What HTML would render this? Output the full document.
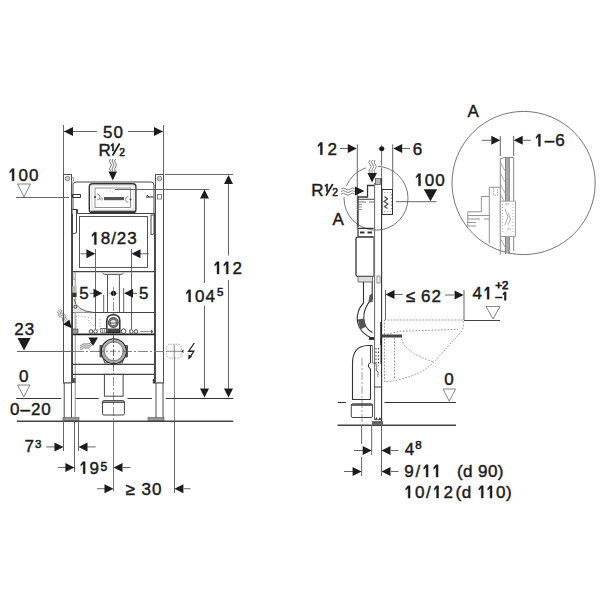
<!DOCTYPE html>
<html><head><meta charset="utf-8">
<style>
html,body{margin:0;padding:0;background:#fff;width:600px;height:600px;overflow:hidden}
svg{display:block}
text{font-family:"Liberation Sans",sans-serif;fill:#1c1c1c;stroke:#1c1c1c;stroke-width:0.45;font-size:17px}
.t{letter-spacing:1px}
.ln{fill:none;stroke:#666;stroke-width:1}
.dk{fill:none;stroke:#333;stroke-width:1.2}
.ar{fill:#1c1c1c;stroke:none}
.h1{fill:none;stroke:none}
</style></head><body>
<svg width="600" height="600" viewBox="0 0 600 600">

<!-- ================= LEFT FRONT VIEW ================= -->
<!-- dim 50 -->
<g class="ln">
<path d="M63.5 125V174 M163.5 125V174 M64 131.5H97 M128 131.5H163"/>
</g>
<g class="ar">
<path d="M64 131.5 L73 127 L73 136 Z"/>
<path d="M163 131.5 L154 127 L154 136 Z"/>
</g>
<text class="t" x="113.5" y="138" text-anchor="middle">50</text>
<text x="98.5" y="155.5">R</text>
<text x="109.9" y="151" style="font-size:10.3px;stroke-width:0.6"><tspan class="h1">1</tspan></text>
<path d="M119.6 143.5 L112.6 155.5" stroke="#1c1c1c" stroke-width="1.7"/>
<text x="119.3" y="155.6" style="font-size:10.3px;stroke-width:0.55">2</text>
<!-- wavy + arrow -->
<g fill="none" stroke="#555" stroke-width="0.8">
<path d="M110.5 159 q-2 2 0 4 q2 2 0 4 q-2 2 0 4"/>
<path d="M113 159 q-2 2 0 4 q2 2 0 4 q-2 2 0 4"/>
<path d="M115.5 159 q-2 2 0 4 q2 2 0 4 q-2 2 0 4"/>
</g>
<path class="ar" d="M112.8 180.5 L108.5 171.5 L117 171.5 Z"/>

<!-- level 100 -->
<text class="t" x="23.7" y="180.8" text-anchor="middle"><tspan class="h1">1</tspan>00</text>
<path d="M17.5 184 H30.5 L24 196.8 Z" fill="none" stroke="#777" stroke-width="0.9"/>
<path class="ln" d="M16 197.5 H69"/>

<!-- posts -->
<g fill="#fff" stroke="#505050" stroke-width="1">
<rect x="63.5" y="174.5" width="8" height="208.5"/>
<rect x="64.2" y="383" width="7.3" height="36"/>
<rect x="155.5" y="174.5" width="8" height="208.5"/>
<rect x="156" y="383" width="7" height="36"/>
</g>
<circle cx="67.5" cy="178.5" r="2.3" fill="#ccc" stroke="#777" stroke-width="0.8"/>
<circle cx="159.5" cy="178.5" r="2.3" fill="#ccc" stroke="#777" stroke-width="0.8"/>
<rect x="157.5" y="194.5" width="4" height="4.5" fill="none" stroke="#666" stroke-width="0.8"/>
<path d="M71.5 177.5 H73.5 V181 H71.5" fill="none" stroke="#888" stroke-width="0.8"/>
<path d="M63 197.5 H69" stroke="#666" stroke-width="1"/>
<!-- foot plates -->
<rect x="63" y="417.5" width="16" height="3.5" fill="#999" stroke="#555" stroke-width="0.6"/>
<rect x="148" y="417.5" width="16" height="3.5" fill="#999" stroke="#555" stroke-width="0.6"/>

<!-- cistern upper -->
<path d="M73 209.5 V185 Q73 182 76 182 H151 Q154 182 154 185 V213.5 H77.5 V209.5 Z" fill="none" stroke="#444" stroke-width="1"/>
<path d="M71.8 183 H73 V209" stroke="#aaa" stroke-width="1.2" fill="none"/>
<rect x="89.3" y="183.8" width="46.6" height="29" rx="3" fill="none" stroke="#333" stroke-width="1.4"/>
<rect x="91.8" y="185.2" width="42" height="25" rx="1.5" fill="none" stroke="#bbb" stroke-width="0.6"/>
<rect x="95" y="188" width="35.5" height="19.5" fill="none" stroke="#777" stroke-width="0.8"/>
<path d="M91 211.5 H135" stroke="#444" stroke-width="1.6"/>
<path d="M97 194 A3 3 0 0 1 97 200 M128.5 196.5 A3 3 0 0 0 128.5 202.5" fill="none" stroke="#777" stroke-width="0.8"/>
<circle cx="95" cy="197" r="1" fill="#333"/><circle cx="130.5" cy="199.5" r="1" fill="#333"/>
<circle cx="101.5" cy="199" r="1.2" fill="none" stroke="#777" stroke-width="0.6"/>
<rect x="104" y="197" width="20" height="3.2" fill="#555"/>
<path d="M110 190 h1 M114 190 h1 M112 192 h1" stroke="#aaa" stroke-width="0.8"/>
<!-- side small stuff -->
<path d="M72.5 194.5 H80.5 V197.5 H72.5 Z" fill="none" stroke="#333" stroke-width="1"/>
<path d="M72 209.5 H76.5 V232 Q76.5 233.5 74.5 233.5 H72 Z" fill="none" stroke="#333" stroke-width="0.9"/>
<path d="M146 197 H153.5 M147 195 L149 197" stroke="#222" stroke-width="1"/>
<path d="M151 215 H154 V233 Q154 234.5 152.5 234.5 H151 Z" fill="none" stroke="#333" stroke-width="0.9"/>

<!-- cistern lower box -->
<rect x="79.5" y="216.5" width="68" height="51" fill="none" stroke="#555" stroke-width="1"/>
<path d="M72.5 213.5 V383 M154.5 213 V383" stroke="#444" stroke-width="1"/>
<rect x="152.8" y="379" width="2.4" height="4.5" fill="#444"/>
<path d="M72.5 271.7 H155" stroke="#444" stroke-width="1.2"/>
<path d="M75.2 272 V421" stroke="#888" stroke-width="0.9"/>
<path d="M73 273 V279 H75" fill="none" stroke="#777" stroke-width="0.8"/>

<!-- dim 18/23 -->
<text class="t" x="114" y="244.4" text-anchor="middle"><tspan class="h1">1</tspan>8/23</text>
<path class="ln" d="M80.5 253.75 H87 M140 253.75 H148.75 M95.5 249 V329 M131.5 249 V329"/>
<path class="ar" d="M95.4 253.75 L86.4 249.25 L86.4 258.25 Z M131.5 253.75 L140.5 249.25 L140.5 258.25 Z"/>

<!-- drain pipe top -->
<path d="M102.5 272.8 L104.5 274.5 H121.8 L123.8 272.8" fill="#ddd" stroke="#555" stroke-width="0.9"/>
<path d="M107.5 275 V312 M119.4 275 V312" stroke="#555" stroke-width="1"/>

<!-- dim 5 / 5 -->
<text class="t" x="84.4" y="298.75" text-anchor="middle">5</text>
<text class="t" x="144.2" y="298.75" text-anchor="middle">5</text>
<path class="ln" d="M90 293.3 H94 M133 293.3 H137 M103.7 295 V312 M123.7 288 V312"/>
<path class="ar" d="M102.5 293.3 L93.5 288.8 L93.5 297.8 Z M124 293.3 L133 288.8 L133 297.8 Z"/>
<path d="M108.5 293.3 H118.5" stroke="#999" stroke-width="0.8"/>
<circle cx="113.5" cy="293.3" r="2.6" fill="#1c1c1c"/>
<path d="M113.5 287 V421" stroke="#777" stroke-width="0.8" stroke-dasharray="9 2 2 2"/>
<path d="M113.5 421 V491.5" stroke="#777" stroke-width="1"/>

<!-- rails -->
<path d="M72.5 312.5 H155" stroke="#444" stroke-width="1.1"/>
<path d="M72.5 334.4 H155" stroke="#222" stroke-width="1.6"/>
<path d="M72.5 364.4 H155" stroke="#444" stroke-width="1.2"/>
<path d="M72.5 374.4 H155" stroke="#444" stroke-width="1.2"/>
<rect x="72.5" y="378" width="3" height="5" fill="#555"/>
<!-- dotted zone -->
<path d="M76.5 316 V331 M78 315.5 L94 318.5 M100 319 L100 331 M88 320 L98 330" fill="none" stroke="#999" stroke-width="0.9" stroke-dasharray="1.3 2"/>
<!-- bracket curve -->
<path d="M73.5 299 Q76 311 94 312.5 H73.5 Z" fill="#e4e4e4" stroke="none"/>
<path d="M74 299 Q76 311 94 312.5" fill="none" stroke="#555" stroke-width="0.9"/>
<rect x="72.3" y="292.5" width="4.3" height="4.5" fill="#333"/>
<rect x="72.3" y="286" width="4.3" height="6.5" fill="#bbb"/>
<circle cx="75.3" cy="306.8" r="1.5" fill="none" stroke="#333" stroke-width="0.9"/>
<path d="M72.5 329 H78 V334 H72.5 Z" fill="#999" stroke="#444" stroke-width="0.7"/>
<!-- connector fitting -->
<path d="M106.8 332.5 V321 Q106.8 314.8 113.3 314.8 Q119.8 314.8 119.8 321 V332.5 Z" fill="#fff" stroke="#2a2a2a" stroke-width="1.5"/>
<circle cx="113.3" cy="322.5" r="5" fill="#777" stroke="#333" stroke-width="0.8"/>
<circle cx="113.3" cy="322.5" r="2.6" fill="#eee"/>
<path d="M110 323 H116.5" stroke="#333" stroke-width="0.8"/>
<path d="M107.5 328.5 H119 V332 H107.5 Z" fill="#444"/>
<!-- small circles on rail -->
<circle cx="91" cy="331.5" r="1.8" fill="none" stroke="#444" stroke-width="1"/>
<circle cx="95.5" cy="331.5" r="1.8" fill="none" stroke="#444" stroke-width="1"/>
<rect x="100.8" y="328.5" width="5.4" height="4.5" fill="none" stroke="#555" stroke-width="0.8"/>
<path d="M102.6 328.5 V333 M104.4 328.5 V333" stroke="#555" stroke-width="0.6"/>
<circle cx="123.6" cy="331.2" r="2.3" fill="none" stroke="#444" stroke-width="1"/>
<circle cx="131.3" cy="331.5" r="1.8" fill="none" stroke="#444" stroke-width="1"/>
<circle cx="136" cy="331.5" r="1.8" fill="none" stroke="#444" stroke-width="1"/>
<path d="M140 331.5 H152" stroke="#777" stroke-width="0.8"/>
<path d="M151 329.5 L153.5 331.5 L151 333.5 Z" fill="#555"/>
<!-- water arrows -->
<path class="ar" d="M71.8 328.2 L63 324.6 L69.3 319.6 Z"/>
<g fill="none" stroke="#555" stroke-width="0.75">
<path d="M56.74 312.04 L57.07 312.10 L57.39 312.16 L57.69 312.24 L57.96 312.35 L58.18 312.48 L58.37 312.65 L58.51 312.86 L58.61 313.10 L58.67 313.37 L58.69 313.67 L58.69 313.99 L58.67 314.32 L58.65 314.66 L58.63 314.99 L58.64 315.31 L58.66 315.60 L58.73 315.87 L58.84 316.10 L58.99 316.30 L59.18 316.46 L59.42 316.59 L59.69 316.69 L60.00 316.77 L60.32 316.83 L60.65 316.89 L60.98 316.94 L61.30 317.01 L61.59 317.10 L61.85 317.21 L62.07 317.35 L62.25 317.53 L62.38 317.74 L62.47 317.99 L62.52 318.27 L62.54 318.57 L62.53 318.89 L62.51 319.23 L62.49 319.56 L62.48 319.89 L62.48 320.20 L62.52 320.49 L62.59 320.75 L62.71 320.98 L62.87 321.17 L63.07 321.33 L63.31 321.45 L63.60 321.55 L63.90 321.62 L64.23 321.68 L64.56 321.73 M58.30 310.80 L58.63 310.86 L58.95 310.92 L59.25 311.00 L59.52 311.11 L59.74 311.24 L59.93 311.41 L60.07 311.62 L60.17 311.86 L60.23 312.13 L60.25 312.43 L60.25 312.75 L60.23 313.08 L60.21 313.42 L60.19 313.75 L60.20 314.07 L60.22 314.36 L60.29 314.63 L60.40 314.86 L60.55 315.06 L60.74 315.22 L60.98 315.35 L61.25 315.45 L61.56 315.53 L61.88 315.59 L62.21 315.65 L62.54 315.70 L62.86 315.77 L63.15 315.86 L63.41 315.97 L63.63 316.11 L63.81 316.29 L63.94 316.50 L64.03 316.75 L64.08 317.03 L64.10 317.33 L64.09 317.65 L64.07 317.99 L64.05 318.32 L64.04 318.65 L64.04 318.96 L64.08 319.25 L64.15 319.51 L64.27 319.74 L64.43 319.93 L64.63 320.09 L64.87 320.21 L65.16 320.31 L65.46 320.38 L65.79 320.44 L66.12 320.49 M59.86 309.56 L60.19 309.62 L60.51 309.68 L60.81 309.76 L61.08 309.87 L61.30 310.00 L61.49 310.17 L61.63 310.38 L61.73 310.62 L61.79 310.89 L61.81 311.19 L61.81 311.51 L61.79 311.84 L61.77 312.18 L61.75 312.51 L61.76 312.83 L61.78 313.12 L61.85 313.39 L61.96 313.62 L62.11 313.82 L62.30 313.98 L62.54 314.11 L62.81 314.21 L63.12 314.29 L63.44 314.35 L63.77 314.41 L64.10 314.46 L64.42 314.53 L64.71 314.62 L64.97 314.73 L65.19 314.87 L65.37 315.05 L65.50 315.26 L65.59 315.51 L65.64 315.79 L65.66 316.09 L65.65 316.41 L65.63 316.75 L65.61 317.08 L65.60 317.41 L65.60 317.72 L65.64 318.01 L65.71 318.27 L65.83 318.50 L65.99 318.69 L66.19 318.85 L66.43 318.97 L66.72 319.07 L67.02 319.14 L67.35 319.20 L67.68 319.25"/>
<path d="M80 346 q3 -3 6 -2 q3 1 6 -3 M80 348 q3 -3 6 -2 q3 1 6 -3 M80 350 q3 -3 6 -2 q3 1 6 -3"/>
</g>
<path class="ar" d="M93 346 L88.5 337.5 L98 337.5 Z"/>

<!-- level 23 -->
<text class="t" x="24.8" y="335.2" text-anchor="middle">23</text>
<path class="ar" d="M17.5 338.1 H30.6 L24 350.6 Z"/>
<path d="M16.9 351.5 H74" stroke="#666" stroke-width="1"/>
<path d="M74 351.5 H166" stroke="#777" stroke-width="0.9" stroke-dasharray="10 2 2 2"/>

<!-- pipe circle -->
<rect x="99.5" y="345" width="3" height="12.5" rx="1" fill="#555"/>
<rect x="125" y="345" width="3" height="12.5" rx="1" fill="#555"/>
<path d="M103 358 L105 363 H108 M124 358 L122 363 H119" fill="none" stroke="#555" stroke-width="1.2"/>
<circle cx="113.8" cy="351.3" r="12.4" fill="#fff" stroke="#2a2a2a" stroke-width="1.3"/>
<circle cx="113.8" cy="351.3" r="10.7" fill="none" stroke="#aaa" stroke-width="2.2"/>
<circle cx="113.8" cy="351.3" r="9.4" fill="none" stroke="#555" stroke-width="0.8"/>
<path d="M113.5 336 V367" stroke="#444" stroke-width="0.8" stroke-dasharray="7 2 2 2"/>
<path d="M98 351.25 H129" stroke="#555" stroke-width="0.8" stroke-dasharray="6 2 2 2"/>

<!-- electrical -->
<rect x="166.3" y="344.2" width="15.4" height="13.8" rx="4" fill="none" stroke="#999" stroke-width="0.9" stroke-dasharray="1.5 1.2"/>
<path d="M174.5 358 V493" stroke="#888" stroke-width="1"/><path d="M174.3 344.5 V358" stroke="#888" stroke-width="1"/>
<path d="M166 351.25 H181" stroke="#777" stroke-width="0.9"/>
<path d="M181 351.25 L183.5 349.5 L183.5 353 Z" fill="#333"/>
<path d="M194.3 343 L188.6 351.25 L193.8 351.25 L189.5 358" fill="none" stroke="#222" stroke-width="1.3" stroke-linejoin="miter"/>
<path d="M188.2 359.8 L188.6 354.5 L192 356.6 Z" fill="#222"/>

<!-- drain lower -->
<rect x="104.4" y="374.4" width="18.7" height="21.8" fill="none" stroke="#444" stroke-width="1"/>
<rect x="102.5" y="400.6" width="21.9" height="14.4" rx="1.5" fill="none" stroke="#444" stroke-width="1"/>
<path d="M102.5 402.2 H124.4" stroke="#444" stroke-width="1.4"/>

<!-- level 0 / floor -->
<text class="t" x="24.3" y="382" text-anchor="middle">0</text>
<path d="M17.5 385 H30 L23.75 396.9 Z" fill="none" stroke="#777" stroke-width="0.9"/>
<path d="M16.25 398.5 H61.25 M75.6 398.5 H98.75 M127.5 398.5 H152 M165.8 398.5 H233.3" stroke="#333" stroke-width="1.2"/>
<text class="t" x="10" y="415">0–20</text>
<path d="M16.9 421.2 H233.3" stroke="#444" stroke-width="1.5"/>

<!-- dim 112 / 104.5 -->
<path class="ln" d="M165 174.5 H233 M228.5 184 V255.6 M228.5 280 V388.5 M115 189.5 H209.4 M204.5 198.5 V283 M204.5 305.6 V388.5"/>
<path class="ar" d="M228.5 175 L224 184 L233 184 Z M228.5 397.5 L224 388.5 L233 388.5 Z M204.5 189.5 L200 198.5 L209 198.5 Z M204.5 397.5 L200 388.5 L209 388.5 Z"/>
<text class="t" x="228" y="273.9" text-anchor="middle" style="letter-spacing:1px"><tspan class="h1">1</tspan><tspan class="h1">1</tspan>2</text>
<text class="t" x="200.2" y="302" text-anchor="middle"><tspan class="h1">1</tspan>04</text>
<text x="220.3" y="296.2" style="font-size:11.5px;stroke-width:0.55" text-anchor="middle">5</text>

<!-- bottom dims -->
<path class="ln" d="M63.5 421 V451 M74.5 421 V472 M78.5 421 V451 M174.5 421 V493"/>
<path class="ln" d="M46.25 446.9 H55 M87 446.9 H95.6 M58 467.5 H66 M123 467.5 H130.6 M96.9 488.75 H105 M183.75 488.75 H190.6"/>
<path class="ar" d="M63.5 446.9 L54.5 442.4 L54.5 451.4 Z M78.5 446.9 L87.5 442.4 L87.5 451.4 Z M74.4 467.5 L65.4 463 L65.4 472 Z M113.5 467.5 L122.5 463 L122.5 472 Z M113.5 488.75 L104.5 484.25 L104.5 493.25 Z M174.4 488.75 L183.4 484.25 L183.4 493.25 Z"/>
<text class="t" x="29.8" y="452" text-anchor="middle">7</text>
<text x="38.3" y="447.7" style="font-size:11.5px;stroke-width:0.55" text-anchor="middle">3</text>
<text class="t" x="89.5" y="473.8" text-anchor="middle"><tspan class="h1">1</tspan>9</text>
<text x="103.8" y="470.5" style="font-size:12px;stroke-width:0.55" text-anchor="middle">5</text>
<text class="t" x="144" y="495.2" text-anchor="middle">≥ 30</text>


<!-- ================= RIGHT SIDE VIEW ================= -->
<!-- dim 12 / 6 -->
<text class="t" x="327.5" y="154.7" text-anchor="middle" style="letter-spacing:1.8px"><tspan class="h1">1</tspan>2</text>
<path class="ln" d="M340 148.5 H348 M357.3 144.4 V228 M392.7 144.3 V189 M402 148.5 H410"/>
<path class="ar" d="M356.8 148.5 L347.8 144 L347.8 153 Z M393.2 148.5 L402.2 144 L402.2 153 Z"/>
<path d="M377.5 148.75 H385.5 M381.6 144.5 V148" stroke="#999" stroke-width="0.7"/>
<circle cx="381.7" cy="148.75" r="2.5" fill="#1c1c1c"/>

<path d="M381.6 151 V165.5 M381.6 167.5 V178" stroke="#666" stroke-width="1"/>
<text class="t" x="418" y="154.8" text-anchor="middle">6</text>

<!-- circle A (side) -->
<circle cx="376" cy="198.2" r="32" fill="none" stroke="#666" stroke-width="0.9"/>
<text x="311.3" y="195.6">R</text>
<text x="323.9" y="191.4" style="font-size:10.3px;stroke-width:0.6"><tspan class="h1">1</tspan></text>
<path d="M332.8 184 L326 195.6" stroke="#1c1c1c" stroke-width="1.7"/>
<text x="332.2" y="195.7" style="font-size:10.3px;stroke-width:0.55">2</text>
<text class="t" x="338.6" y="224.5" text-anchor="middle">A</text>
<g fill="none" stroke="#666" stroke-width="0.8">
<path d="M340.5 186 H356 V197 H340.5 Z" fill="#fff" stroke="none"/><path d="M341 189 q2.3 -2 4.6 0 q2.3 2 4.6 0 q2.3 -2 4.6 0 M341 191.6 q2.3 -2 4.6 0 q2.3 2 4.6 0 q2.3 -2 4.6 0 M341 194.2 q2.3 -2 4.6 0 q2.3 2 4.6 0 q2.3 -2 4.6 0"/>
<path d="M366 172 V160 H378 V172 Z" fill="#fff" stroke="none"/><path d="M370 160 q-2.2 2.2 0 4.4 q2.2 2.2 0 4.4 q-2.2 2.2 0 4.4 M372.6 160 q-2.2 2.2 0 4.4 q2.2 2.2 0 4.4 q-2.2 2.2 0 4.4 M375.2 160 q-2.2 2.2 0 4.4 q2.2 2.2 0 4.4 q-2.2 2.2 0 4.4"/>
</g>
<path class="ar" d="M364.5 191 L355 186.5 L355 195.5 Z M372 182.5 L367.5 173 L377 173 Z"/>

<!-- frame post side -->
<path d="M374.6 183 V420" stroke="#666" stroke-width="1"/><path d="M381.6 178 V425" stroke="#333" stroke-width="1.1"/>
<rect x="375.5" y="178.5" width="5" height="6" fill="#bbb" stroke="#555" stroke-width="0.8"/>
<!-- connection step -->
<path d="M374 185.5 H367.5 V197 H358 V227" fill="none" stroke="#333" stroke-width="1.3"/>
<path d="M358 199.3 H374" stroke="#444" stroke-width="1"/><path d="M358 202 H366 M369 202 H374" stroke="#666" stroke-width="0.9"/>
<path d="M357 204.5 H362 M357 207 H362 M357 209.5 H362" stroke="#777" stroke-width="0.8"/>
<!-- plate -->
<rect x="382" y="189.5" width="10.5" height="25" fill="none" stroke="#333" stroke-width="1"/>
<path d="M384 192.5 H391 M384 211.5 H391" stroke="#999" stroke-width="0.9" stroke-dasharray="1 2"/>
<path d="M391.5 194 V210" stroke="#888" stroke-width="0.9" stroke-dasharray="1.5 2"/>
<path d="M384.5 196.5 L387.5 199 L384 201.5 L388 204 L384.5 206.5 L387.5 208.5" stroke="#444" stroke-width="1.1" fill="none"/>

<!-- level 100 side -->
<text class="t" x="430.1" y="185.8" text-anchor="middle"><tspan class="h1">1</tspan>00</text>
<path class="ar" d="M423.7 189.2 H437.2 L430.5 201.2 Z"/>
<path d="M396 201.7 H436.5" stroke="#666" stroke-width="1"/>

<!-- cistern side body -->
<path d="M373.6 228.4 H358 V236.6" fill="none" stroke="#333" stroke-width="1.2"/>
<path d="M360 232.5 H364.5 M367.5 232.5 H372" stroke="#333" stroke-width="1.8"/>
<path d="M358 236.6 H373.6" stroke="#555" stroke-width="0.8"/>
<path d="M373.6 237.2 H357.5 Q356 237.2 356 238.7 V274.8 Q356 276.3 357.5 276.3 H373.6" fill="none" stroke="#333" stroke-width="1.3"/>
<path d="M373.6 237 V276.5" stroke="#777" stroke-width="0.9"/>
<path d="M358 276.5 H372.5 V282 H358 Z" fill="#ddd" stroke="#555" stroke-width="0.8"/>
<rect x="377" y="276" width="3" height="7" fill="none" stroke="#777" stroke-width="0.8"/>
<!-- flush bend -->
<path d="M363.5 282 V303 Q356 311 357.5 322 Q359.5 333 372.5 338.5" fill="none" stroke="#333" stroke-width="1.1"/>
<path d="M372.2 282 V298.5 Q363 308 363.8 319 Q364.5 328.5 372.5 332.5" fill="none" stroke="#333" stroke-width="1.1"/>
<path d="M357.8 319.5 L363.8 318.5 L365.5 327 L360.2 329.5 Z" fill="#555"/>
<path d="M369.5 295 L372.6 293.5 L372.6 302 L368.5 302.5 Z" fill="#555"/>
<path d="M369 337 H374 V340 H369 Z" fill="#333"/>

<!-- dim <=62 -->
<path class="ln" d="M385.5 290 V320 M394 294.5 H402.7 M445 295 H454 M464 290 V320"/>
<path class="ar" d="M385.5 294.5 L394.5 290 L394.5 299 Z M463.6 295 L454.6 290.5 L454.6 299.5 Z"/>
<text class="t" x="411" y="302" text-anchor="middle">≤</text>
<text class="t" x="431.5" y="302" text-anchor="middle">62</text>
<text class="t" x="483" y="299.2" text-anchor="middle">4<tspan class="h1">1</tspan></text>
<text x="501.8" y="288.5" style="font-size:11.5px;stroke-width:0.75" text-anchor="middle">+2</text>
<text x="501.8" y="300.2" style="font-size:11.5px;stroke-width:0.75" text-anchor="middle">–<tspan class="h1">1</tspan></text>
<path d="M486 306.5 H500 L493 319 Z" fill="none" stroke="#777" stroke-width="0.9"/>
<path d="M464 320.5 H500" stroke="#444" stroke-width="1.2"/>

<!-- WC dotted -->
<g fill="none" stroke="#888" stroke-width="0.9" stroke-dasharray="1.6 1.6">
<path d="M384.5 320 H463 Q465 326 461 332 L436 360 Q420 378 384.5 382 Z"/>
<path d="M384 335 L400 331.3 L458 329.3"/>
<path d="M401 336 Q402 352 434 362"/>
<path d="M394.5 338 V379"/>
</g>
<!-- bolt -->
<rect x="381" y="334.5" width="21" height="3" fill="#444"/>
<path d="M381 322 V345" stroke="#222" stroke-width="1.5"/>

<!-- drain bend -->
<path d="M372.5 345.5 H368 Q352.5 346 352.5 363 V399.5 H370.5" fill="none" stroke="#333" stroke-width="1.1"/>
<path d="M370.5 345.5 V363 Q368 363.5 368.3 366 Q368.5 368 370.5 368.5 V399.5" fill="none" stroke="#333" stroke-width="1"/>
<path d="M372.5 345.5 V363" stroke="#666" stroke-width="0.8"/>
<path d="M362 358 V425" stroke="#888" stroke-width="0.8" stroke-dasharray="8 2 2 2"/>
<path d="M376 348 V366 M378.5 348 V366" stroke="#444" stroke-width="1" stroke-dasharray="1.5 2"/>
<path d="M381.3 338 V364" stroke="#222" stroke-width="1.5"/>
<path d="M374 387 H381.5" stroke="#444" stroke-width="1"/>
<path d="M372.5 363 H375 Q378 365 376 370 L378 372 V377" fill="none" stroke="#555" stroke-width="0.8"/>

<!-- fitting -->
<rect x="351.25" y="403.75" width="21.25" height="13.75" rx="1.5" fill="none" stroke="#444" stroke-width="1"/>
<path d="M351.25 405 H372.5" stroke="#444" stroke-width="1.6"/>

<!-- level 0 side / floor -->
<path d="M338 402.5 H346 M384.4 402.5 H456" stroke="#333" stroke-width="1.2"/>
<text class="t" x="449.6" y="385.2" text-anchor="middle">0</text>
<path d="M443 389 H455.6 L449.3 401.3 Z" fill="none" stroke="#777" stroke-width="0.9"/>
<path d="M337.5 425.2 H456" stroke="#444" stroke-width="1.5"/>
<path d="M374.5 420 L376.5 417 L378 420 L380 417 L381.5 420 Z" fill="#444"/>
<rect x="372" y="421" width="11" height="4" fill="#666"/>

<!-- bottom dims side -->
<path class="ln" d="M371.7 425 V455 M381.5 425 V476 M354 450.5 H363 M391 450.5 H398.5 M344 471.5 H353 M391 471.5 H398.5 M361.6 425 V444 M361.6 457 V476"/>
<path class="ar" d="M371.7 450.5 L362.7 446 L362.7 455 Z M381.5 450.5 L390.5 446 L390.5 455 Z M361.6 471.5 L352.6 467 L352.6 476 Z M381.5 471.5 L390.5 467 L390.5 476 Z"/>
<text class="t" x="410" y="454.8" text-anchor="middle">4</text>
<text x="418.4" y="449.4" style="font-size:11.5px;stroke-width:0.55" text-anchor="middle">8</text>
<text class="t" x="404.2" y="477" style="letter-spacing:1.8px">9/<tspan class="h1">1</tspan><tspan class="h1">1</tspan></text>
<text x="457" y="477" style="letter-spacing:0.4px">(d 90)</text>
<text x="404" y="498" style="letter-spacing:1.6px"><tspan class="h1">1</tspan>0/<tspan class="h1">1</tspan>2</text>
<text x="455.5" y="498" style="letter-spacing:0.6px">(d <tspan class="h1">1</tspan><tspan class="h1">1</tspan>0)</text>

<!-- ================= DETAIL A ================= -->
<text class="t" x="473.6" y="116.7" text-anchor="middle">A</text>
<circle cx="523.6" cy="183" r="71.6" fill="none" stroke="#666" stroke-width="0.9"/>
<path class="ln" d="M482 140.3 H491 M500.3 136 V156 M513.7 135.8 V156 M523 140.3 H530.8"/>
<path class="ar" d="M500.3 140.3 L491.3 135.8 L491.3 144.8 Z M513.7 140.3 L522.7 135.8 L522.7 144.8 Z"/>
<text class="t" x="550" y="146.3" text-anchor="middle"><tspan class="h1">1</tspan>–6</text>
<!-- wall layers -->
<rect x="505.5" y="158" width="3.8" height="43" fill="#aaa"/>
<rect x="505.5" y="236.5" width="3.8" height="17" fill="#aaa"/>
<g fill="none" stroke="#777" stroke-width="0.9">
<path d="M500.3 158.5 V254.5 M505.5 158 V201 M509.3 158 V201 M513.7 158 V201 M500.3 159 L504 157.5 H513.7"/>
<path d="M505.5 236.5 V254 M509.3 236.5 V254 M513.7 236.5 V251"/>
<path d="M500.3 236.5 H513.7"/>
</g>
<rect x="500.3" y="201.2" width="15.2" height="35.3" fill="#fff" stroke="#999" stroke-width="0.9"/>
<g fill="none" stroke="#999" stroke-width="0.8">
<path d="M500.8 163 L505 171 M500.8 174 L505 182 M500.8 185 L505 193 M500.8 195 L504 201 M500.8 239 L505 247"/>
<path d="M502.5 204 V234 M513 204 V234" stroke-dasharray="1 2"/>
<path d="M505 209 L508 217 L505 225 M508 213 L510.5 219 L508 225 M505 204 h4 M507 229 h4"/>
</g>
<g fill="none" stroke="#888" stroke-width="0.9">
<path d="M489.3 187.3 H500.3 M489.3 187.3 V243.5 M481.4 196.5 H489.3 M481.4 196.5 V211.8 H467.8 V226.5"/>
<path d="M467.8 215.5 H489.3 M467.8 219 H480 M484 219 H489.3 M467.8 222.5 H476 M467.8 226 H476"/>
</g>
<path d="M493.5 188.5 V195 H497.5 V188.5" fill="none" stroke="#999" stroke-width="0.8" stroke-dasharray="1.5 1"/>
<g id="ones" fill="#1c1c1c" stroke="#1c1c1c">
<path d="M113.58 143.63 L113.58 151.00 L112.41 151.00 L112.41 144.97 L110.97 146.24 L110.97 145.31 L112.29 143.63 Z" style="stroke-width:0.6"/>
<path d="M14.07 168.63 L14.07 180.80 L12.15 180.80 L12.15 170.86 L9.77 172.95 L9.77 171.42 L11.95 168.63 Z" style="stroke-width:0.45"/>
<path d="M96.29 232.23 L96.29 244.40 L94.37 244.40 L94.37 234.45 L91.99 236.55 L91.99 235.02 L94.16 232.23 Z" style="stroke-width:0.45"/>
<path d="M219.00 261.73 L219.00 273.90 L217.08 273.90 L217.08 263.95 L214.70 266.05 L214.70 264.52 L216.87 261.73 Z" style="stroke-width:0.45"/>
<path d="M228.20 261.73 L228.20 273.90 L226.28 273.90 L226.28 263.95 L223.90 266.05 L223.90 264.52 L226.08 261.73 Z" style="stroke-width:0.45"/>
<path d="M190.57 289.83 L190.57 302.00 L188.65 302.00 L188.65 292.06 L186.27 294.15 L186.27 292.62 L188.45 289.83 Z" style="stroke-width:0.45"/>
<path d="M85.10 461.63 L85.10 473.80 L83.18 473.80 L83.18 463.85 L80.80 465.95 L80.80 464.42 L82.98 461.63 Z" style="stroke-width:0.45"/>
<path d="M322.30 142.53 L322.30 154.70 L320.38 154.70 L320.38 144.75 L318.00 146.85 L318.00 145.32 L320.18 142.53 Z" style="stroke-width:0.45"/>
<path d="M327.58 184.03 L327.58 191.40 L326.41 191.40 L326.41 185.37 L324.97 186.64 L324.97 185.71 L326.29 184.03 Z" style="stroke-width:0.6"/>
<path d="M420.47 173.63 L420.47 185.80 L418.55 185.80 L418.55 175.86 L416.17 177.95 L416.17 176.42 L418.35 173.63 Z" style="stroke-width:0.45"/>
<path d="M489.07 287.03 L489.07 299.20 L487.15 299.20 L487.15 289.26 L484.77 291.35 L484.77 289.82 L486.94 287.03 Z" style="stroke-width:0.45"/>
<path d="M505.91 291.97 L505.91 300.20 L504.61 300.20 L504.61 293.47 L503.00 294.89 L503.00 293.85 L504.47 291.97 Z" style="stroke-width:0.75"/>
<path d="M428.05 464.83 L428.05 477.00 L426.13 477.00 L426.13 467.06 L423.75 469.15 L423.75 467.62 L425.93 464.83 Z" style="stroke-width:0.45"/>
<path d="M438.05 464.83 L438.05 477.00 L436.13 477.00 L436.13 467.06 L433.75 469.15 L433.75 467.62 L435.93 464.83 Z" style="stroke-width:0.45"/>
<path d="M410.07 485.83 L410.07 498.00 L408.15 498.00 L408.15 488.06 L405.77 490.15 L405.77 488.62 L407.94 485.83 Z" style="stroke-width:0.45"/>
<path d="M438.52 485.83 L438.52 498.00 L436.60 498.00 L436.60 488.06 L434.22 490.15 L434.22 488.62 L436.40 485.83 Z" style="stroke-width:0.45"/>
<path d="M483.21 485.83 L483.21 498.00 L481.29 498.00 L481.29 488.06 L478.91 490.15 L478.91 488.62 L481.08 485.83 Z" style="stroke-width:0.45"/>
<path d="M492.01 485.83 L492.01 498.00 L490.09 498.00 L490.09 488.06 L487.71 490.15 L487.71 488.62 L489.88 485.83 Z" style="stroke-width:0.45"/>
<path d="M540.37 134.13 L540.37 146.30 L538.45 146.30 L538.45 136.36 L536.07 138.45 L536.07 136.92 L538.25 134.13 Z" style="stroke-width:0.45"/>
</g>
</svg>
</body></html>
